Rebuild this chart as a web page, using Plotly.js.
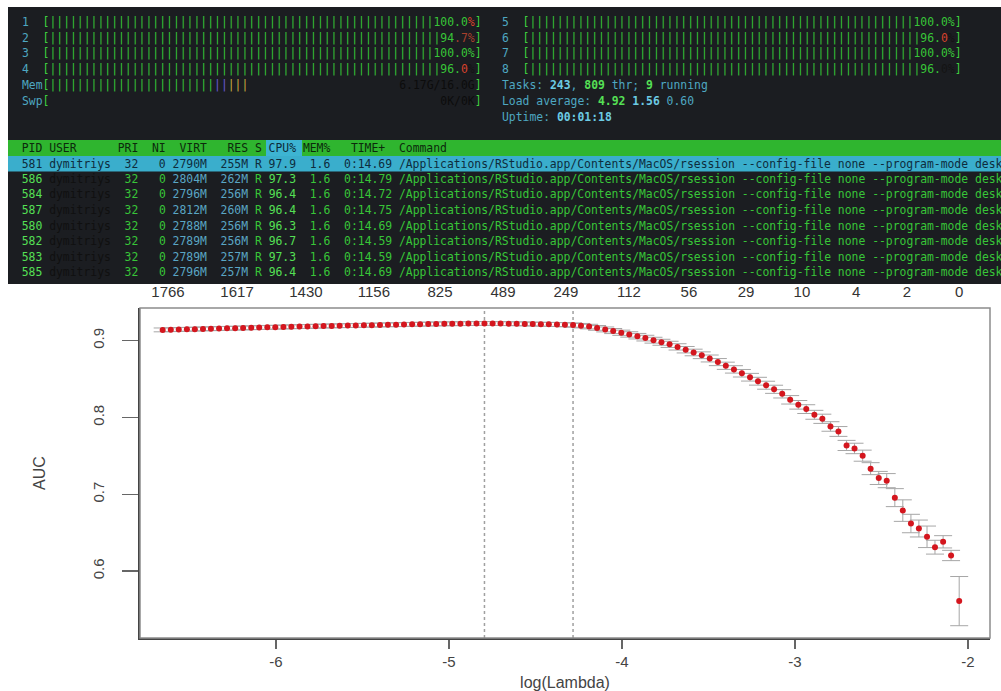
<!DOCTYPE html>
<html><head><meta charset="utf-8">
<script src="https://cdn.plot.ly/plotly-3.0.1.min.js"></script>
<style>body{margin:0;background:#fff}#chart{width:1001px;height:691px}</style>
</head><body><div id="chart"></div>
<script>
// ---------------- chart data (cv.glmnet, AUC) ----------------
const logLambda = [
-6.655,-6.608,-6.562,-6.515,-6.469,-6.422,-6.376,-6.329,-6.283,-6.236,
-6.190,-6.143,-6.097,-6.050,-6.004,-5.957,-5.911,-5.864,-5.818,-5.771,
-5.725,-5.678,-5.632,-5.585,-5.539,-5.492,-5.446,-5.399,-5.353,-5.306,
-5.260,-5.213,-5.167,-5.120,-5.074,-5.027,-4.981,-4.934,-4.888,-4.841,
-4.795,-4.748,-4.702,-4.655,-4.609,-4.562,-4.516,-4.469,-4.423,-4.376,
-4.330,-4.283,-4.237,-4.190,-4.144,-4.097,-4.051,-4.004,-3.958,-3.911,
-3.865,-3.818,-3.772,-3.725,-3.679,-3.632,-3.586,-3.539,-3.493,-3.446,
-3.400,-3.353,-3.307,-3.260,-3.214,-3.167,-3.121,-3.074,-3.028,-2.981,
-2.935,-2.888,-2.842,-2.795,-2.749,-2.702,-2.656,-2.609,-2.563,-2.516,
-2.470,-2.423,-2.377,-2.330,-2.284,-2.237,-2.191,-2.144,-2.098,-2.051];
const cvAUC = [
0.9140,0.9143,0.9145,0.9148,0.9150,0.9153,0.9155,0.9158,0.9160,0.9163,
0.9165,0.9168,0.9170,0.9173,0.9175,0.9178,0.9180,0.9183,0.9185,0.9188,
0.9190,0.9192,0.9194,0.9196,0.9198,0.9200,0.9202,0.9204,0.9206,0.9208,
0.9210,0.9212,0.9214,0.9216,0.9218,0.9219,0.9220,0.9221,0.9222,0.9223,
0.9224,0.9223,0.9222,0.9221,0.9220,0.9218,0.9216,0.9214,0.9212,0.9210,
0.9207,0.9203,0.9195,0.9183,0.9166,0.9146,0.9125,0.9103,0.9081,0.9058,
0.9033,0.9006,0.8979,0.8952,0.8919,0.8882,0.8846,0.8810,0.8768,0.8721,
0.8673,0.8626,0.8576,0.8524,0.8472,0.8420,0.8367,0.8308,0.8230,0.8165,
0.8109,0.8035,0.7983,0.7883,0.7818,0.7636,0.7597,0.7503,0.7334,0.7213,
0.7178,0.6957,0.6788,0.6620,0.6555,0.6447,0.6312,0.6382,0.6204,0.5610];
const cvSD = [
0.0025,0.0025,0.0025,0.0025,0.0025,0.0025,0.0025,0.0025,0.0025,0.0025,
0.0025,0.0025,0.0025,0.0025,0.0025,0.0025,0.0025,0.0025,0.0025,0.0025,
0.0025,0.0025,0.0025,0.0025,0.0025,0.0025,0.0025,0.0025,0.0025,0.0025,
0.0025,0.0025,0.0025,0.0025,0.0025,0.0025,0.0025,0.0025,0.0025,0.0025,
0.0025,0.0025,0.0025,0.0025,0.0025,0.0025,0.0025,0.0025,0.0026,0.0026,
0.0027,0.0028,0.0029,0.0030,0.0031,0.0032,0.0033,0.0034,0.0035,0.0036,
0.0037,0.0038,0.0039,0.0040,0.0041,0.0042,0.0043,0.0044,0.0045,0.0046,
0.0047,0.0048,0.0049,0.0050,0.0051,0.0052,0.0053,0.0054,0.0055,0.0056,
0.0057,0.0058,0.0060,0.0062,0.0064,0.0066,0.0068,0.0072,0.0078,0.0085,
0.0092,0.0117,0.0140,0.0120,0.0110,0.0140,0.0090,0.0080,0.0067,0.0320];
const lambdaMinLog = -4.795;
const lambda1seLog = -4.283;
const nzLabels = ['1766','1617','1430','1156','825','489','249','112','56','29','10','4','2','0'];
const nzLogLambda = [-6.624,-6.225,-5.827,-5.434,-5.052,-4.688,-4.324,-3.960,-3.613,-3.283,-2.960,-2.647,-2.353,-2.051];
const xTickVals = [-6,-5,-4,-3,-2];
const xTickText = ['-6','-5','-4','-3','-2'];
const yTickVals = [0.6,0.7,0.8,0.9];
const yTickText = ['0.6','0.7','0.8','0.9'];

// ---------------- terminal (htop) text content ----------------
const cpuLabels = ['1','2','3','4','5','6','7','8'];
const procPid  = ['586','584','587','580','582','583','585'];
const procVirt = ['2804M','2796M','2812M','2788M','2789M','2789M','2796M'];
const procRes  = ['262M','256M','260M','256M','256M','257M','257M'];
const procCpu  = ['97.3','96.4','96.4','96.3','96.7','97.3','96.4'];
const procTime = ['0:14.79','0:14.72','0:14.75','0:14.69','0:14.59','0:14.59','0:14.69'];
const selRow = {pid:'581', virt:'2790M', res:'255M', cpu:'97.9', time:'0:14.69'};
const cmdText = '/Applications/RStudio.app/Contents/MacOS/rsession --config-file none --program-mode desk';

// ---------------- helpers ----------------
const W = 1001, H = 691;
const PX = x => x / W, PY = y => 1 - y / H;
const CW = 6.86, X0 = 8.2;
const colX = c => X0 + c * CW;
const nb = s => s.replace(/ /g, '\u00a0');
function segs(list){
  return list.map(([t,c,b]) => {
    const s = `<span style="color:${c}">${nb(t)}</span>`;
    return b ? `<b>${s}</b>` : s;
  }).join('');
}
const G='#38c538', GB='#55e055', CY='#4ea8c2', CYB='#6ccbe4', RED='#d8412c', DRED='#a8402c', DK='#141414', BR='#3fd03f';
const annots = [];
function termLine(col, y, list){
  annots.push({xref:'paper', yref:'paper', x:PX(colX(col)), y:PY(y), xanchor:'left', yanchor:'middle',
    showarrow:false, borderpad:0, borderwidth:0, align:'left', text:segs(list),
    font:{family:'DejaVu Sans Mono, monospace', size:11.4, color:G}});
}
const pctSegs = [
  [['100.0',G],['%',RED]],
  [['94',G],['.7%',DRED]],
  [['100.0%',G]],
  [['96.',G],['0',RED],['%',DK]],
  [['100.0%',G]],
  [['96.',G],['0',RED],['%',DK]],
  [['100.0%',G]],
  [['96.',G],['0%',DK]]
];
const rowY = [22, 37.5, 53, 68.5];
cpuLabels.forEach((lab, i) => {
  const p = pctSegs[i];
  const plen = p.reduce((a, s) => a + s[0].length, 0);
  const bars = '|'.repeat(62 - plen);
  const col = i < 4 ? 2 : 72;
  termLine(col, rowY[i % 4], [[lab + '  ', CY], ['[', BR], [bars, G]].concat(p).concat([[']', BR]]));
});
termLine(2, 85, [['Mem', CY], ['[', BR], ['|'.repeat(24), G], ['||', '#6a58d8'], ['|||', '#c9b040'],
  [' '.repeat(22), G], ['6.17G/16.0G', '#0c0c0c'], [']', BR]]);
termLine(2, 100.5, [['Swp', CY], ['[', BR], [' '.repeat(57), G], ['0K/0K', '#0c0c0c'], [']', BR]]);
termLine(72, 85, [['Tasks: ', CY], ['243', CYB, 1], [', ', CY], ['809', GB, 1], [' thr; ', CY], ['9', GB, 1], [' running', CY]]);
termLine(72, 100.5, [['Load average: ', CY], ['4.92 ', GB, 1], ['1.56 ', CYB, 1], ['0.60', CY]]);
termLine(72, 116.5, [['Uptime: ', CY], ['00:01:18', CYB, 1]]);

// table header
const HD = '#0c2a0c';
termLine(0, 148, [['  PID USER      PRI  NI  VIRT   RES S ', HD], ['CPU%', '#0c2a38'], [' MEM%   TIME+  Command', HD]]);
// selected row
const SD = '#0e2c3c';
function rowText(pid, virt, res, cpu, time){
  return {
    pid: pid.padStart(5) + ' ', user: 'dymitriys'.padEnd(9) + ' ', pri: '32'.padStart(3) + ' ', ni: '0'.padStart(3) + ' ',
    virt: virt.padStart(5) + ' ', res: res.padStart(5) + ' ', s: 'R ', cpu: cpu.padStart(4) + ' ',
    mem: '1.6'.padStart(4) + '  ', time: time.padStart(7) + ' ', cmd: cmdText
  };
}
let r = rowText(selRow.pid, selRow.virt, selRow.res, selRow.cpu, selRow.time);
termLine(0, 163.5, [[r.pid + r.user + r.pri + r.ni + r.virt + r.res + r.s + r.cpu + r.mem + r.time + r.cmd, SD]]);
const tableY = [179, 194.5, 210, 225.5, 241, 256.5, 272];
procPid.forEach((pid, i) => {
  const t = rowText(pid, procVirt[i], procRes[i], procCpu[i], procTime[i]);
  termLine(0, tableY[i], [[t.pid, GB], [t.user, '#101010'], [t.pri, G], [t.ni, G], [t.virt, '#5aa6c4'], [t.res, '#5aa6c4'],
    [t.s, G], [t.cpu, GB], [t.mem, G], [t.time, G], [t.cmd, G]]);
});

const shapes = [
  {type:'rect', xref:'paper', yref:'paper', x0:PX(8), x1:PX(1001), y0:PY(7), y1:PY(284), fillcolor:'#1b1d21', line:{width:0}, layer:'below'},
  {type:'rect', xref:'paper', yref:'paper', x0:PX(8), x1:PX(1001), y0:PY(140), y1:PY(156), fillcolor:'#2fb52f', line:{width:0}, layer:'below'},
  {type:'rect', xref:'paper', yref:'paper', x0:PX(266), x1:PX(302), y0:PY(140), y1:PY(156), fillcolor:'#3db4d2', line:{width:0}, layer:'below'},
  {type:'rect', xref:'paper', yref:'paper', x0:PX(8), x1:PX(1001), y0:PY(156), y1:PY(171.5), fillcolor:'#3aaecc', line:{width:0}, layer:'below'},
  // plot box
  {type:'rect', xref:'x domain', yref:'y domain', x0:0, x1:1, y0:0, y1:1, line:{color:'#8c8c8c', width:1.5}},
  {type:'line', xref:'x', yref:'y domain', x0:lambdaMinLog, x1:lambdaMinLog, y0:0, y1:1, line:{color:'#a0a0a0', width:1.5, dash:'dot'}, layer:'below'},
  {type:'line', xref:'x', yref:'y domain', x0:lambda1seLog, x1:lambda1seLog, y0:0, y1:1, line:{color:'#a0a0a0', width:1.5, dash:'dot'}, layer:'below'}
];

const FONT = 'Liberation Sans, Arial, sans-serif';
const traces = [
  {type:'scatter', mode:'markers', x:logLambda, y:cvAUC, xaxis:'x', yaxis:'y',
   marker:{color:'#d4161e', size:6}, hoverinfo:'skip',
   error_y:{type:'data', array:cvSD, visible:true, color:'#a6a6a6', thickness:1, width:9}},
  {type:'scatter', mode:'markers', x:nzLogLambda, y:nzLogLambda.map(() => null), xaxis:'x2', yaxis:'y',
   marker:{opacity:0}, hoverinfo:'skip', showlegend:false}
];
const xRange = [-6.786, -1.873];
const layout = {
  width:W, height:H, margin:{l:0, r:0, t:0, b:0}, paper_bgcolor:'#ffffff', plot_bgcolor:'rgba(0,0,0,0)',
  showlegend:false,
  xaxis:{domain:[140/W, 990/W], range:xRange, anchor:'y', tickvals:xTickVals, ticktext:xTickText,
    ticks:'outside', ticklen:9, tickwidth:1.5, tickcolor:'#666', showline:true, linecolor:'#444', linewidth:2,
    showgrid:false, zeroline:false, tickfont:{family:FONT, size:15, color:'#444'},
    title:{text:'log(Lambda)', standoff:8, font:{family:FONT, size:16, color:'#444'}}},
  xaxis2:{overlaying:'x', side:'top', anchor:'y', range:xRange, tickvals:nzLogLambda, ticktext:nzLabels,
    ticks:'', showline:false, showgrid:false, zeroline:false, ticklabelstandoff:7,
    tickfont:{family:FONT, size:15, color:'#333'}},
  yaxis:{domain:[1-638/H, 1-308/H], range:[0.513, 0.9425], anchor:'x', tickvals:yTickVals, ticktext:yTickText,
    ticks:'outside', ticklen:16, tickwidth:1.5, tickcolor:'#666', tickangle:-90, showline:true, linecolor:'#444', linewidth:2,
    showgrid:false, zeroline:false, ticklabelstandoff:12, tickfont:{family:FONT, size:15, color:'#444'},
    title:{text:'AUC', standoff:40, font:{family:FONT, size:16, color:'#444'}}},
  shapes:shapes, annotations:annots
};
Plotly.newPlot('chart', traces, layout, {displayModeBar:false, staticPlot:true});
</script>
</body></html>
